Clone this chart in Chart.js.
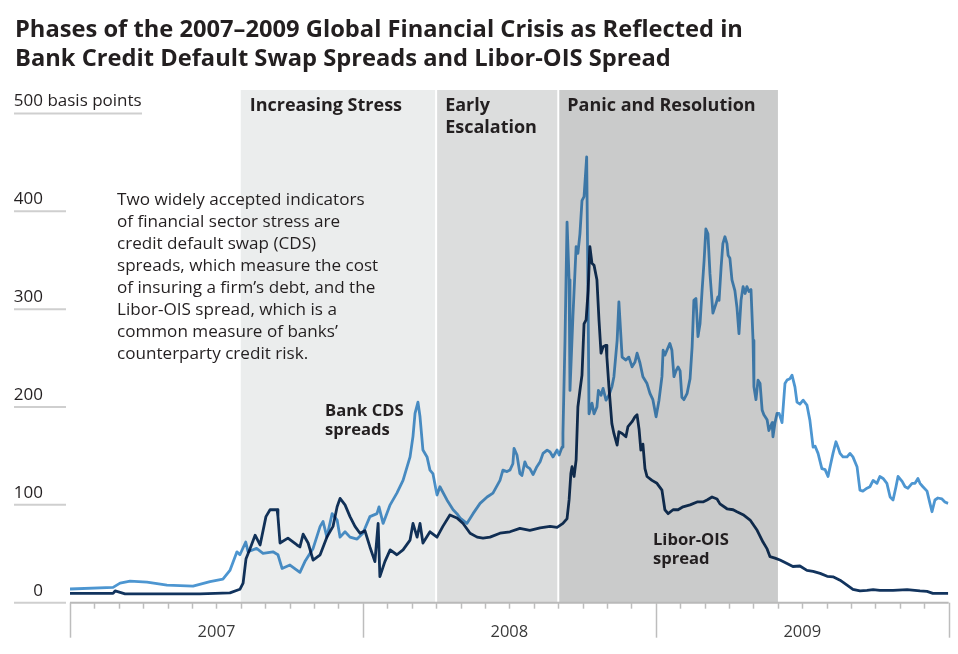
<!DOCTYPE html>
<html>
<head>
<meta charset="utf-8">
<title>Phases of the 2007–2009 Global Financial Crisis</title>
<script src="https://cdn.jsdelivr.net/npm/chart.js@4.4.1/dist/chart.umd.min.js"></script>
<style>
  html, body { margin: 0; padding: 0; background: #fff; }
  #chart { display: block; }
</style>
</head>
<body>
<canvas id="chart" width="958" height="654"></canvas>
<script>
// Datos (fechas en anos decimales, valores en puntos basicos)
const cdsDates = [
  2007.000, 2007.147, 2007.171, 2007.205, 2007.263, 2007.331, 2007.420, 2007.478, 2007.522, 2007.546,
  2007.570, 2007.580, 2007.600, 2007.608, 2007.637, 2007.659, 2007.693, 2007.710, 2007.724, 2007.751,
  2007.785, 2007.802, 2007.830, 2007.854, 2007.864, 2007.877, 2007.895, 2007.912, 2007.922, 2007.939,
  2007.956, 2007.980,
  2008.000, 2008.024, 2008.048, 2008.055, 2008.069, 2008.093, 2008.116, 2008.137, 2008.161, 2008.171,
  2008.178, 2008.188, 2008.195, 2008.205, 2008.219, 2008.229, 2008.239, 2008.253, 2008.263, 2008.287,
  2008.308, 2008.321, 2008.332, 2008.355, 2008.376, 2008.400, 2008.424, 2008.444, 2008.468, 2008.478,
  2008.492, 2008.502, 2008.512, 2008.516, 2008.526, 2008.536, 2008.543, 2008.553, 2008.560, 2008.570,
  2008.581, 2008.594, 2008.605, 2008.615, 2008.629, 2008.639, 2008.649, 2008.663, 2008.670, 2008.680,
  2008.683, 2008.690, 2008.697, 2008.704, 2008.707, 2008.717, 2008.728, 2008.734, 2008.741, 2008.748,
  2008.755, 2008.764, 2008.769, 2008.772, 2008.782, 2008.789, 2008.799, 2008.804, 2008.813, 2008.820,
  2008.830, 2008.840, 2008.850, 2008.857, 2008.868, 2008.874, 2008.885, 2008.898, 2008.908, 2008.919,
  2008.929, 2008.936, 2008.946, 2008.956, 2008.970, 2008.980, 2008.990,
  2009.001, 2009.011, 2009.021, 2009.025, 2009.031, 2009.038, 2009.048, 2009.055, 2009.062, 2009.069,
  2009.076, 2009.083, 2009.089, 2009.096, 2009.107, 2009.117, 2009.124, 2009.130, 2009.137, 2009.144,
  2009.151, 2009.158, 2009.165, 2009.171, 2009.178, 2009.185, 2009.195, 2009.206, 2009.212, 2009.216,
  2009.223, 2009.229, 2009.236, 2009.243, 2009.247, 2009.253, 2009.260, 2009.270, 2009.277, 2009.284,
  2009.291, 2009.298, 2009.305, 2009.311, 2009.318, 2009.325, 2009.332, 2009.335, 2009.342, 2009.349,
  2009.356, 2009.363, 2009.369, 2009.380, 2009.386, 2009.397, 2009.400, 2009.407, 2009.414, 2009.421,
  2009.431, 2009.441, 2009.448, 2009.458, 2009.465, 2009.475, 2009.482, 2009.492, 2009.503, 2009.516,
  2009.526, 2009.537, 2009.544, 2009.554, 2009.567, 2009.578, 2009.588, 2009.595, 2009.605, 2009.615,
  2009.622, 2009.629, 2009.639, 2009.653, 2009.663, 2009.673, 2009.687, 2009.697, 2009.707, 2009.721,
  2009.731, 2009.742, 2009.755, 2009.765, 2009.776, 2009.789, 2009.800, 2009.810, 2009.820, 2009.827,
  2009.841, 2009.851, 2009.861, 2009.875, 2009.885, 2009.895, 2009.902, 2009.912, 2009.926, 2009.936,
  2009.943, 2009.953, 2009.963, 2009.977, 2009.987, 2009.998
];
const cdsValues = [
  14, 15.7, 20, 22, 21, 18, 17, 21.5, 24, 33,
  52, 49, 62, 52, 55.5, 50.5, 52, 49, 35, 38.5,
  31, 42, 55.5, 78, 83, 67, 91, 84.5, 67, 72.5,
  67, 65,
  71, 88, 91, 98, 81, 100, 112, 125, 149, 170,
  193.5, 205, 190, 156, 149, 135.5, 132, 110, 118.5, 105,
  95, 91, 86.5, 81, 91, 101.5, 108, 112, 125, 135.5,
  134, 135.5, 142, 157.7, 151, 132, 130, 144, 139, 137,
  131, 139, 144, 152.6, 156, 154, 149, 156, 151, 159,
  173, 268, 389, 330, 217, 292, 364, 357, 377, 411,
  415, 455.6, 302, 193, 204, 193, 200, 217, 212, 219,
  207, 212, 220.6, 231, 268, 307.5, 251, 248, 251, 241,
  246, 255, 245, 231, 224, 214, 207.5,
  190, 207, 231, 258, 253, 258, 265, 258, 231, 237,
  241, 237, 210, 207.5, 214, 229, 261.5, 309, 311, 272,
  285, 319, 350, 382, 377, 336, 296, 306, 312.6, 309,
  343, 367, 374, 367, 355, 352, 330, 319, 302, 275,
  309, 323, 316, 323, 318, 320, 268, 220.6, 207.5, 227.5,
  224, 197, 192, 187, 176, 184, 169.6, 184, 193.5, 193.5,
  184, 224, 227.5, 229, 232.6, 220.6, 205, 203, 207, 202,
  186.6, 159, 160, 152.6, 137, 136, 129, 139, 152.6, 164.5,
  159, 152.6, 149, 149, 152.6, 149, 139, 115, 114, 117,
  118.5, 125, 122, 129, 127, 122, 108, 105, 118.5, 129,
  124, 118.5, 117, 122, 122, 127, 122, 118.5, 114, 101.5,
  93, 105, 107, 106, 103, 101.5
];

const liborDates = [
  2007.000, 2007.147, 2007.154, 2007.188, 2007.444, 2007.546, 2007.580, 2007.591, 2007.601, 2007.615,
  2007.632, 2007.649, 2007.669, 2007.683, 2007.707, 2007.710, 2007.717, 2007.744, 2007.775, 2007.785,
  2007.796, 2007.813, 2007.830, 2007.854, 2007.877, 2007.898, 2007.912, 2007.922, 2007.939, 2007.956,
  2007.973, 2007.990,
  2008.007, 2008.024, 2008.041, 2008.052, 2008.058, 2008.075, 2008.093, 2008.116, 2008.137, 2008.161,
  2008.171, 2008.185, 2008.195, 2008.205, 2008.229, 2008.253, 2008.273, 2008.297, 2008.321, 2008.342,
  2008.366, 2008.390, 2008.410, 2008.434, 2008.468, 2008.502, 2008.536, 2008.570, 2008.605, 2008.639,
  2008.663, 2008.683, 2008.697, 2008.704, 2008.710, 2008.714, 2008.721, 2008.728, 2008.734, 2008.741,
  2008.748, 2008.755, 2008.762, 2008.769, 2008.775, 2008.782, 2008.789, 2008.799, 2008.806, 2008.813,
  2008.820, 2008.830, 2008.833, 2008.840, 2008.850, 2008.857, 2008.868, 2008.874, 2008.885, 2008.898,
  2008.905, 2008.919, 2008.929, 2008.936, 2008.943, 2008.949, 2008.956, 2008.963, 2008.970, 2008.987,
  2009.004, 2009.021, 2009.031, 2009.042, 2009.059, 2009.076, 2009.093, 2009.117, 2009.141, 2009.161,
  2009.175, 2009.192, 2009.209, 2009.219, 2009.243, 2009.264, 2009.277, 2009.298, 2009.322, 2009.346,
  2009.366, 2009.380, 2009.390, 2009.407, 2009.424, 2009.448, 2009.468, 2009.492, 2009.516, 2009.537,
  2009.561, 2009.585, 2009.605, 2009.629, 2009.653, 2009.673, 2009.697, 2009.721, 2009.742, 2009.765,
  2009.810, 2009.858, 2009.902, 2009.926, 2009.946, 2009.998
];
const liborValues = [
  9.6, 9.6, 12, 9, 9, 10, 13.7, 20, 45, 55.5,
  69, 59, 88, 95, 95, 88, 61, 66, 59, 57,
  70, 61, 43.6, 49, 67, 78, 98, 106.6, 100, 88,
  78, 71,
  73.5, 57, 42, 81, 26.6, 42, 54, 49, 54, 64,
  81, 67, 81, 61, 72.5, 67, 78, 89.6, 86.5, 81,
  71, 67, 66, 67, 71, 72.5, 76, 74, 76.5, 78,
  77, 81, 86, 105, 132, 139, 129, 146, 200, 217,
  232.6, 285, 289, 319, 364, 347, 345, 330, 289, 255,
  261.5, 263, 251, 220.6, 183, 173, 161, 174.7, 173, 169.6,
  180, 185, 190, 192, 177, 156, 162, 137, 129, 125,
  122, 115, 95, 91, 95, 95, 98, 100, 103, 103,
  105, 108, 106, 101, 96, 95, 93, 90, 84.5, 74,
  62, 55, 47, 45.6, 43.6, 40, 37, 37.5, 33, 32,
  30, 27, 26.5, 23, 18, 13.7, 12, 12.6, 13.4, 12.6,
  12.6, 13.4, 12, 11.5, 9.6, 9.6
];

// Fases de la crisis
const phaseNames = [['Increasing Stress'], ['Early', 'Escalation'], ['Panic and Resolution']];
const phaseStart = [2007.583, 2008.25, 2008.667];
const phaseEnd = [2008.25, 2008.667, 2009.417];

// Ejes
const yTicks = [0, 100, 200, 300, 400, 500];
const yUnit = 'basis points';
const years = [2007, 2008, 2009];

const titleLines = [
  'Phases of the 2007\u20132009 Global Financial Crisis as Reflected in',
  'Bank Credit Default Swap Spreads and Libor-OIS Spread'
];
const noteLines = [
  'Two widely accepted indicators',
  'of financial sector stress are',
  'credit default swap (CDS)',
  'spreads, which measure the cost',
  'of insuring a firm\u2019s debt, and the',
  'Libor-OIS spread, which is a',
  'common measure of banks\u2019',
  'counterparty credit risk.'
];

const FONT = '"Open Sans", "Noto Sans", sans-serif';
const TEXT = '#231f20';
const phaseColors = ['#ebeded', '#dcdddd', '#cacbcb'];

const toPoints = (xs, ys) => xs.map((x, i) => ({ x: x, y: ys[i] }));

const decorPlugin = {
    id: 'decor',
    beforeDatasetsDraw(chart) {
        const { ctx, chartArea, scales: { x } } = chart;
        ctx.save();
        // Bandas de fases
        phaseStart.forEach((s, i) => {
            const x0 = x.getPixelForValue(s);
            const x1 = x.getPixelForValue(phaseEnd[i]);
            ctx.fillStyle = phaseColors[i];
            ctx.fillRect(x0, chartArea.top, x1 - x0, chartArea.bottom - chartArea.top);
        });
        ctx.fillStyle = '#fff';
        phaseStart.slice(1).forEach(s => {
            const px = x.getPixelForValue(s);
            ctx.fillRect(px - 1, chartArea.top, 2, chartArea.bottom - chartArea.top);
        });
        ctx.restore();
        // las lineas se mezclan con el fondo
        ctx.globalCompositeOperation = 'multiply';
    },
    afterDatasetsDraw(chart) {
        chart.ctx.globalCompositeOperation = 'source-over';
    },
    afterDraw(chart) {
        const { ctx, scales: { x, y } } = chart;
        ctx.save();
        const y0 = y.getPixelForValue(0);

        // Eje X
        ctx.strokeStyle = '#b9b9b9';
        ctx.lineWidth = 2;
        ctx.beginPath();
        ctx.moveTo(x.left, y0);
        ctx.lineTo(x.right, y0);
        ctx.stroke();
        ctx.lineWidth = 1.5;
        ctx.strokeStyle = '#bdbdbd';
        for (let m = 0; m <= years.length * 12; m++) {
            const px = Math.round(x.getPixelForValue(years[0] + m / 12)) + 0.5;
            ctx.beginPath();
            ctx.moveTo(px, y0);
            ctx.lineTo(px, y0 + (m % 12 === 0 ? 35 : 6));
            ctx.stroke();
        }
        ctx.fillStyle = '#3a3a3a';
        ctx.font = '16.5px ' + FONT;
        ctx.textAlign = 'center';
        ctx.textBaseline = 'alphabetic';
        years.forEach(yr => {
            const cx = (x.getPixelForValue(yr) + x.getPixelForValue(yr + 1)) / 2;
            ctx.fillText(String(yr), cx, y0 + 34);
        });

        // Eje Y
        ctx.font = '17px ' + FONT;
        yTicks.forEach((v, i) => {
            const py = y.getPixelForValue(v);
            const last = i === yTicks.length - 1;
            ctx.strokeStyle = '#cfcfcf';
            ctx.lineWidth = 2;
            ctx.beginPath();
            ctx.moveTo(14, py);
            ctx.lineTo(last ? 142 : 66, py);
            ctx.stroke();
            ctx.fillStyle = TEXT;
            ctx.textAlign = 'right';
            ctx.fillText(String(v), 43, py - 7);
            if (last) {
                ctx.textAlign = 'left';
                ctx.fillText(' ' + yUnit, 43, py - 7);
            }
        });

        // Titulo
        ctx.fillStyle = TEXT;
        ctx.textAlign = 'left';
        ctx.font = 'bold 23.7px ' + FONT;
        titleLines.forEach((t, i) => ctx.fillText(t, 15, 37 + i * 28.5));

        // Nombres de fases
        ctx.font = 'bold 18px ' + FONT;
        phaseNames.forEach((lines, i) => {
            const px = x.getPixelForValue(phaseStart[i]) + 9;
            lines.forEach((t, j) => ctx.fillText(t, px, 111 + j * 22));
        });

        // Nota
        ctx.font = '17.1px ' + FONT;
        noteLines.forEach((t, i) => ctx.fillText(t, 117, 205 + i * 22));

        // Etiquetas de series
        ctx.font = 'bold 16.6px ' + FONT;
        ctx.fillText('Bank CDS', 325, 416);
        ctx.fillText('spreads', 325, 435);
        ctx.fillText('Libor-OIS', 653, 545);
        ctx.fillText('spread', 653, 564);
        ctx.restore();
    }
};

new Chart(document.getElementById('chart').getContext('2d'), {
    type: 'line',
    data: {
        datasets: [{
            label: 'Libor-OIS spread',
            data: toPoints(liborDates, liborValues),
            borderColor: '#12345e',
            borderWidth: 2.8,
            pointRadius: 0,
            tension: 0,
            borderJoinStyle: 'round'
        }, {
            label: 'Bank CDS spreads',
            data: toPoints(cdsDates, cdsValues),
            borderColor: '#4d96d1',
            borderWidth: 2.8,
            pointRadius: 0,
            tension: 0,
            borderJoinStyle: 'round'
        }]
    },
    options: {
        responsive: false,
        animation: false,
        devicePixelRatio: 1,
        layout: { padding: { left: 70, right: 9.3, top: 90, bottom: 51.3 } },
        plugins: {
            legend: { display: false },
            tooltip: { enabled: false }
        },
        scales: {
            x: { type: 'linear', min: 2007, max: 2010, display: false },
            y: { min: 0, max: 524, display: false }
        }
    },
    plugins: [decorPlugin]
});
</script>
</body>
</html>
